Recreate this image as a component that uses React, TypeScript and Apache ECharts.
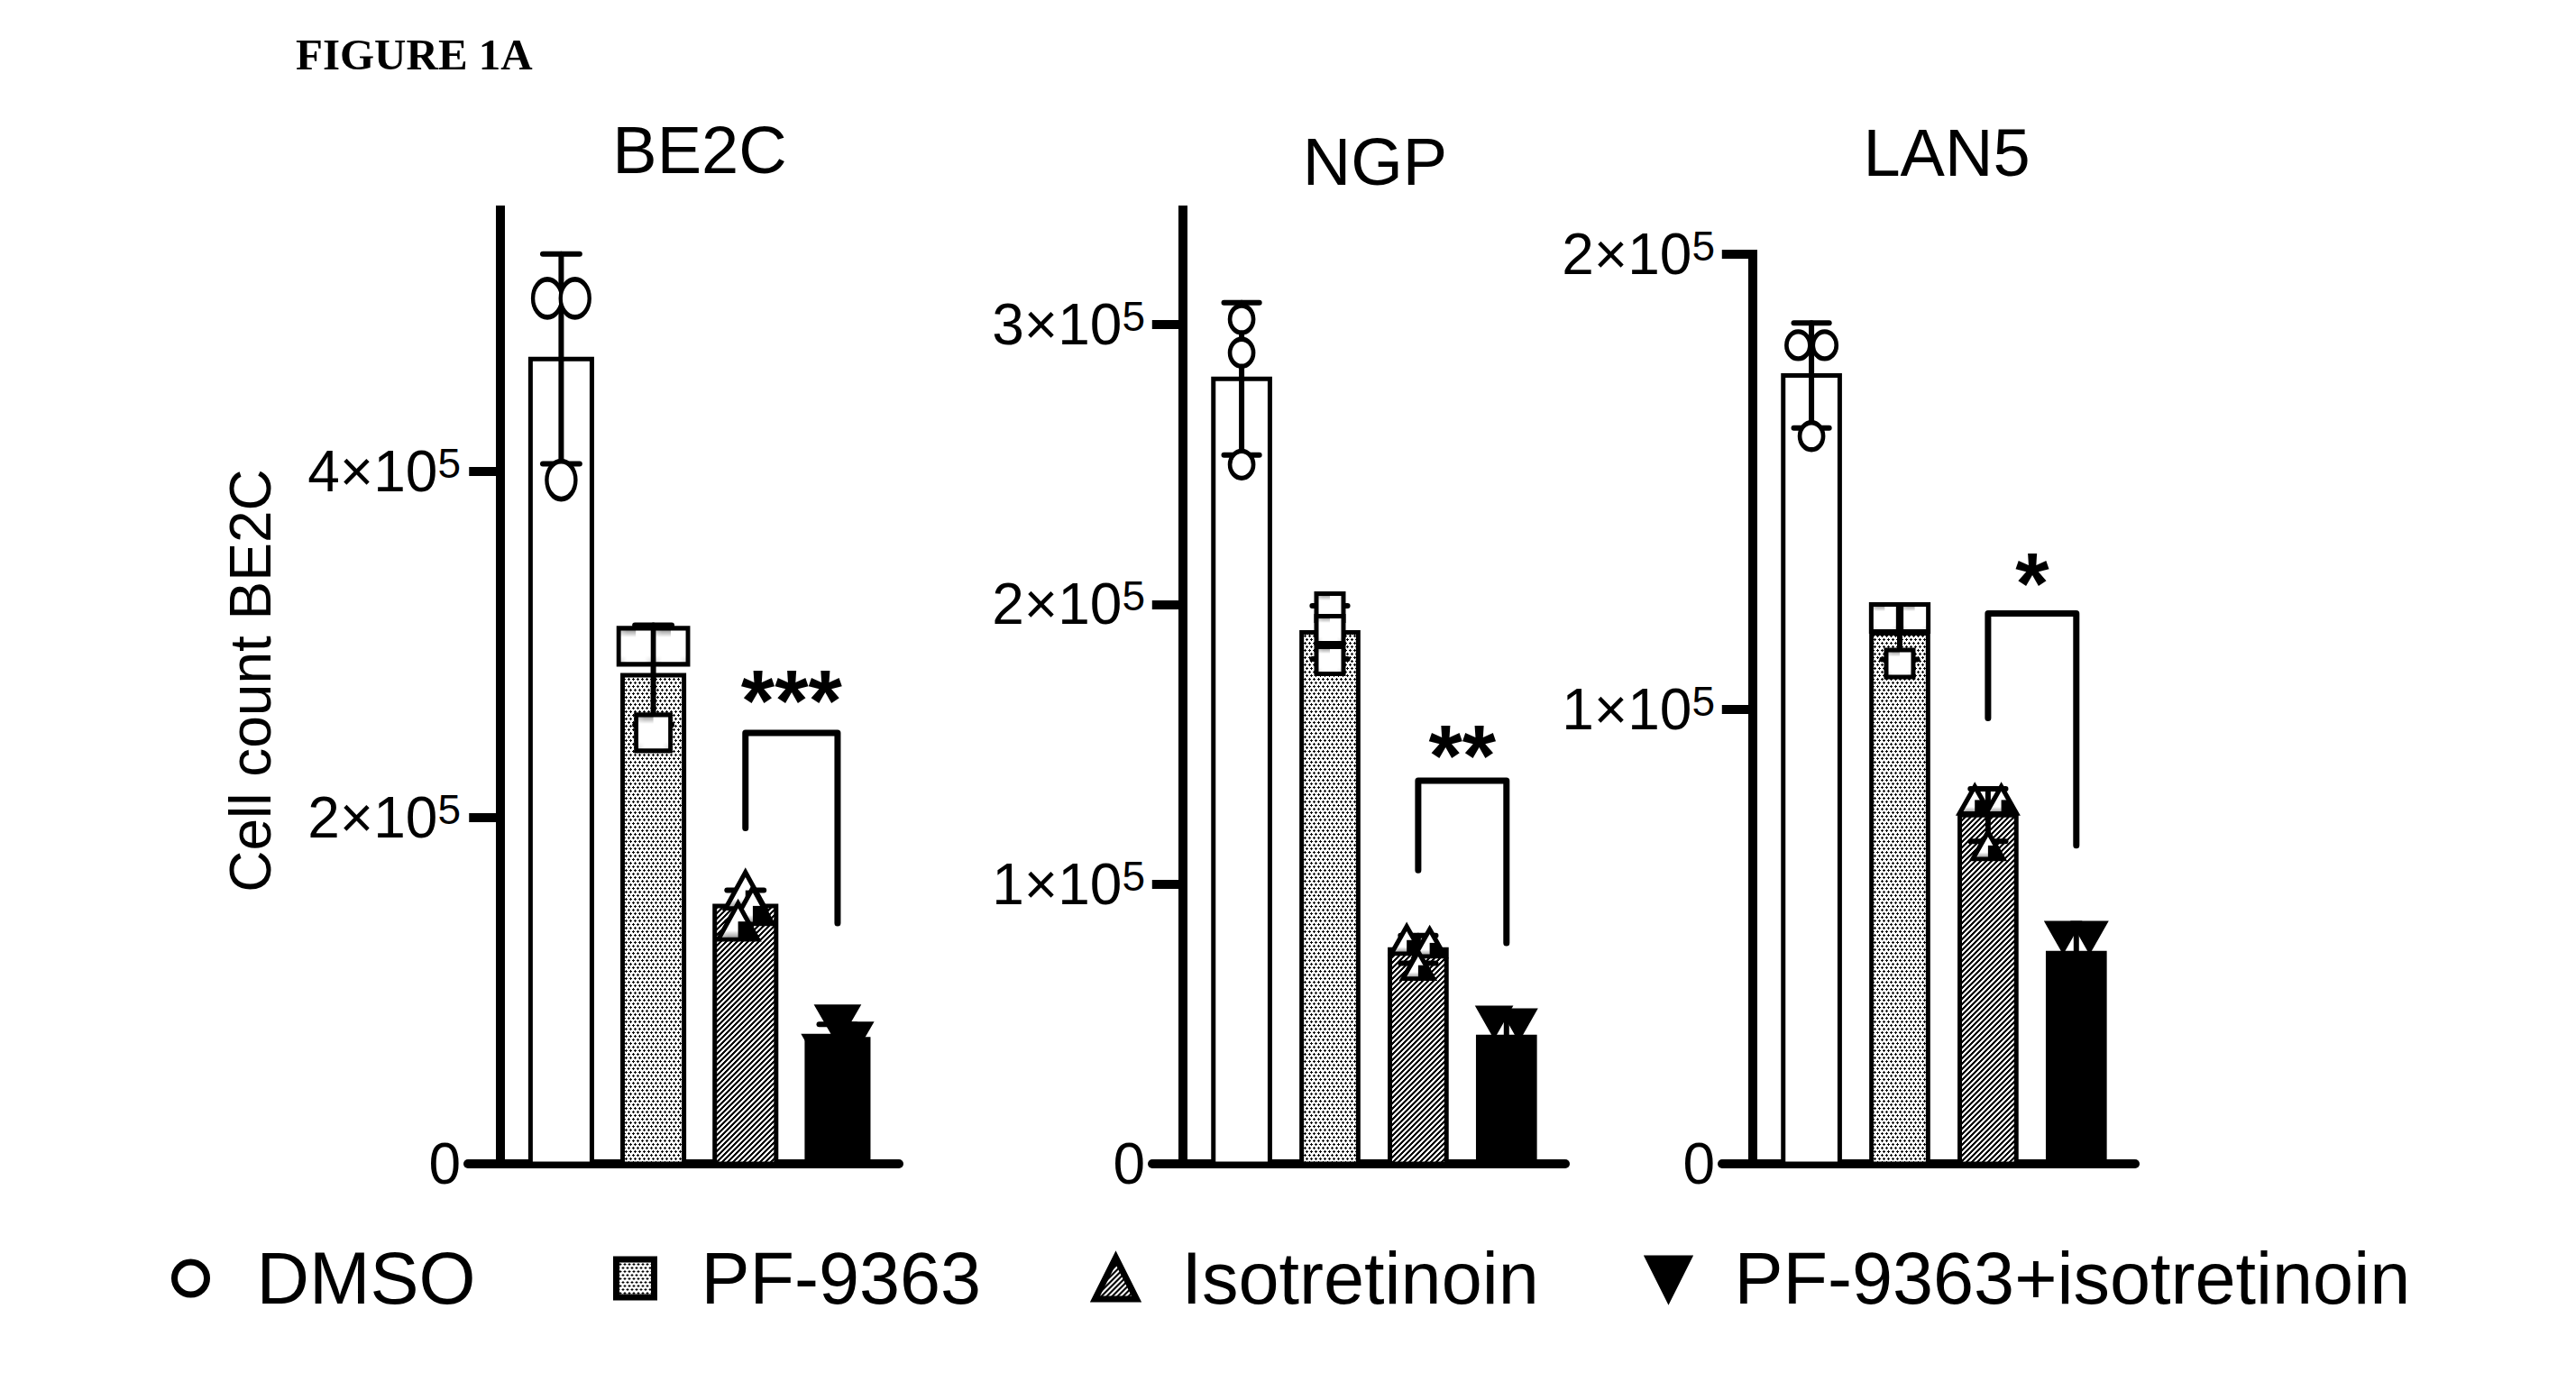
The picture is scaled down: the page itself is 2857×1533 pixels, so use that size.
import React, { useEffect, useRef } from 'react';
import * as echarts from 'echarts';

// ---------------- data ----------------
const FIGURE_LABEL = 'FIGURE 1A';
const Y_AXIS_TITLE = 'Cell count BE2C';
const GROUPS = ['DMSO', 'PF-9363', 'Isotretinoin', 'PF-9363+isotretinoin'];
const PANEL_NAMES = ['BE2C', 'NGP', 'LAN5'];

// replicate cell counts (3 per group)
const BE2C_DMSO = [500000, 500000, 395000];
const BE2C_PF = [299000, 299000, 249000];
const BE2C_ISO = [158000, 149000, 140000];
const BE2C_COMBO = [81000, 71000, 64000];

const NGP_DMSO = [302000, 290000, 250000];
const NGP_PF = [199000, 191000, 180000];
const NGP_ISO = [80000, 79000, 71000];
const NGP_COMBO = [51000, 50000, 35000];

const LAN5_DMSO = [180000, 180000, 160000];
const LAN5_PF = [120000, 120000, 110000];
const LAN5_ISO = [80000, 80000, 70000];
const LAN5_COMBO = [50000, 50000, 39000];

const BE2C_TICKS = [0, 200000, 400000];
const NGP_TICKS = [0, 100000, 200000, 300000];
const LAN5_TICKS = [0, 100000, 200000];
const Y_MAX = [551000, 341000, 200000];

// significance: [group A, group B, bracket top, left leg end, right leg end, label level]
const BE2C_SIG = [2, 3, 249000, 194000, 139000, 274000];
const NGP_SIG = [2, 3, 137000, 105000, 79000, 150000];
const LAN5_SIG = [2, 3, 121000, 98000, 70000, 130000];
const SIG_TEXT = ['***', '**', '*'];

const PANEL_DATA = [
  [BE2C_DMSO, BE2C_PF, BE2C_ISO, BE2C_COMBO],
  [NGP_DMSO, NGP_PF, NGP_ISO, NGP_COMBO],
  [LAN5_DMSO, LAN5_PF, LAN5_ISO, LAN5_COMBO],
];
const PANEL_TICKS = [BE2C_TICKS, NGP_TICKS, LAN5_TICKS];
const PANEL_SIG = [BE2C_SIG, NGP_SIG, LAN5_SIG];

// ---------------- layout / style ----------------
const W = 2857;
const H = 1533;
const FONT = '"Liberation Sans", Arial, Helvetica, sans-serif';
const GRIDS = [
  { left: 519, top: 233, width: 478, height: 1058 },
  { left: 1278, top: 233, width: 458, height: 1058 },
  { left: 1910, top: 282, width: 458, height: 1009 },
];
const X_MIN = -0.345;
const X_MAX = 4.333;
const FIRST = 0.667;
const BAR_HALF = [0.333, 0.32, 0.32];
const CAP_HALF = 0.2;
const JITTER = [
  [[-0.15, 0.15, 0], [-0.19, 0.19, 0], [0, 0.08, -0.08], [0, 0.14, -0.14]],
  [[0, 0, 0], [0, 0, 0], [-0.13, 0.13, 0], [-0.14, 0.14, 0]],
  [[-0.15, 0.15, 0], [-0.17, 0.17, 0], [-0.15, 0.15, 0], [-0.15, 0.15, 0]],
];
const SYMBOL_SIZES = [
  [[32, 42], [38, 40], [44, 40], [44, 38]],
  [[26, 30], [30, 30], [34, 30], [34, 30]],
  [[26, 30], [30, 30], [34, 30], [34, 30]],
];
const SYMBOLS = [
  'path://M0,1A1,1,0,1,1,2,1A1,1,0,1,1,0,1Z',
  'rect',
  'triangle',
  'path://M0,0L2,0L1,2Z',
];
const TITLE_POS = [[776, 166], [1525, 179], [2159, 169]];
const LEGEND_CX = [208, 701, 1234, 1848];
const LEGEND_CY = 1418;
const LEGEND_TEXT_OFFSET = 73;
const LEGEND_ICON = [[36, 42], [42, 42], [46, 46], [46, 44]];
const STAR_SIZE = 96;

function mean(a: number[]) {
  return a.reduce((s, v) => s + v, 0) / a.length;
}
function sd(a: number[]) {
  const m = mean(a);
  return Math.sqrt(a.reduce((s, v) => s + (v - m) * (v - m), 0) / (a.length - 1));
}

function dotPattern() {
  const w = 10, h = 8;
  const c = document.createElement('canvas');
  c.width = w; c.height = h;
  const ctx = c.getContext('2d')!;
  ctx.fillStyle = '#fff';
  ctx.fillRect(0, 0, w, h);
  ctx.fillStyle = '#000';
  const centers = [[2, 1], [7, 1], [4, 5], [9, 5]];
  const plus = [[0, 0], [1, 0], [-1, 0], [0, 1], [0, -1]];
  centers.forEach(([cx, cy]) =>
    plus.forEach(([dx, dy]) => ctx.fillRect((cx + dx + w) % w, (cy + dy + h) % h, 1, 1))
  );
  return { image: c.toDataURL(), repeat: 'repeat', imageWidth: w, imageHeight: h };
}
function hatchPattern() {
  const n = 6;
  const c = document.createElement('canvas');
  c.width = n; c.height = n;
  const ctx = c.getContext('2d')!;
  ctx.fillStyle = '#fff';
  ctx.fillRect(0, 0, n, n);
  ctx.fillStyle = '#000';
  for (let x = 0; x < n; x++)
    for (let y = 0; y < n; y++)
      if ((x + y) % n < 3) ctx.fillRect(x, y, 1, 1);
  return { image: c.toDataURL(), repeat: 'repeat', imageWidth: n, imageHeight: n };
}

function buildOption() {
  const FILLS: any[] = ['#fff', dotPattern(), hatchPattern(), '#000'];
  const series: any[] = [];
  const grid: any[] = [];
  const xAxis: any[] = [];
  const yAxis: any[] = [];

  PANEL_DATA.forEach((groups, p) => {
    grid.push({ ...GRIDS[p], containLabel: false });
    xAxis.push({
      type: 'value', gridIndex: p, min: X_MIN, max: X_MAX,
      axisLine: { show: true, onZero: true, lineStyle: { color: '#000', width: 10 } },
      axisTick: { show: false }, axisLabel: { show: false }, splitLine: { show: false },
    });
    const ticks = PANEL_TICKS[p];
    yAxis.push({
      type: 'value', gridIndex: p, min: 0, max: Y_MAX[p], interval: ticks[1],
      axisLine: { show: true, onZero: true, lineStyle: { color: '#000', width: 10, cap: 'square' } },
      axisTick: { show: true, length: 34, customValues: ticks, lineStyle: { color: '#000', width: 10 } },
      axisLabel: {
        show: true, margin: 8, customValues: ticks,
        formatter: (v: number) => (v === 0 ? '{n|0}' : `{n|${Math.round(v / 1e5)}×10}{s|5}`),
        rich: {
          n: { fontSize: 64, fontFamily: FONT, color: '#000', lineHeight: 64, verticalAlign: 'bottom' },
          s: { fontSize: 46, fontFamily: FONT, color: '#000', lineHeight: 30, verticalAlign: 'top' },
        },
      },
      splitLine: { show: false },
    });

    // bars (mean)
    series.push({
      type: 'custom', coordinateSystem: 'cartesian2d', xAxisIndex: p, yAxisIndex: p, z: 2, silent: true,
      data: groups.map((reps, i) => [FIRST + i, mean(reps), i]),
      renderItem: (params: any, api: any) => {
        const x = api.value(0), v = api.value(1), g = api.value(2);
        const a = api.coord([x - BAR_HALF[p], v]);
        const b = api.coord([x + BAR_HALF[p], 0]);
        return {
          type: 'rect',
          shape: { x: a[0], y: a[1], width: b[0] - a[0], height: b[1] - a[1] },
          style: { fill: FILLS[g], stroke: '#000', lineWidth: 5 },
        };
      },
    });
    // error bars (SD)
    series.push({
      type: 'custom', coordinateSystem: 'cartesian2d', xAxisIndex: p, yAxisIndex: p, z: 3, silent: true,
      data: groups.map((reps, i) => [FIRST + i, mean(reps), sd(reps)]),
      renderItem: (params: any, api: any) => {
        const x = api.value(0), m = api.value(1), s = api.value(2);
        const t = api.coord([x, m + s]), b = api.coord([x, m - s]);
        const tl = api.coord([x - CAP_HALF, m + s]), tr = api.coord([x + CAP_HALF, m + s]);
        const bl = api.coord([x - CAP_HALF, m - s]), br = api.coord([x + CAP_HALF, m - s]);
        const style = { stroke: '#000', lineWidth: 6, lineCap: 'round' };
        return {
          type: 'group',
          children: [
            { type: 'line', shape: { x1: t[0], y1: t[1], x2: b[0], y2: b[1] }, style },
            { type: 'line', shape: { x1: tl[0], y1: tl[1], x2: tr[0], y2: tr[1] }, style },
            { type: 'line', shape: { x1: bl[0], y1: bl[1], x2: br[0], y2: br[1] }, style },
          ],
        };
      },
    });
    // replicate points
    groups.forEach((reps, i) => {
      series.push({
        type: 'scatter', name: GROUPS[i], xAxisIndex: p, yAxisIndex: p, z: 4, silent: true,
        symbol: SYMBOLS[i], symbolSize: SYMBOL_SIZES[p][i],
        itemStyle: { color: FILLS[i], borderColor: '#000', borderWidth: 5, opacity: 1 },
        emphasis: { disabled: true },
        data: reps.map((v, k) => [FIRST + i + JITTER[p][i][k], v]),
      });
    });
    // significance bracket
    series.push({
      type: 'custom', coordinateSystem: 'cartesian2d', xAxisIndex: p, yAxisIndex: p, z: 5, silent: true,
      data: [PANEL_SIG[p]],
      renderItem: (params: any, api: any) => {
        const x1 = FIRST + api.value(0), x2 = FIRST + api.value(1);
        const top = api.value(2), lb = api.value(3), rb = api.value(4), ty = api.value(5);
        const pts = [api.coord([x1, lb]), api.coord([x1, top]), api.coord([x2, top]), api.coord([x2, rb])];
        const tc = api.coord([(x1 + x2) / 2, ty]);
        return {
          type: 'group',
          children: [
            {
              type: 'polyline', shape: { points: pts },
              style: { stroke: '#000', lineWidth: 7, fill: 'none', lineJoin: 'round', lineCap: 'round' },
            },
            {
              type: 'text', x: tc[0], y: tc[1] + 0.12 * STAR_SIZE,
              style: {
                text: SIG_TEXT[p], fill: '#000', fontSize: STAR_SIZE, fontWeight: 'bold', fontFamily: FONT,
                align: 'center', verticalAlign: 'middle', textAlign: 'center', textVerticalAlign: 'middle',
              },
            },
          ],
        };
      },
    });
  });

  const legend = GROUPS.map((g, i) => {
    const [iw, ih] = LEGEND_ICON[i];
    return {
      show: true, data: [g], orient: 'horizontal', padding: 0, selectedMode: false,
      left: LEGEND_CX[i] - iw / 2, top: LEGEND_CY - 41,
      itemWidth: iw, itemHeight: ih,
      itemStyle: { borderColor: '#000', borderWidth: 7 },
      textStyle: {
        fontFamily: FONT, fontSize: 81, color: '#000', lineHeight: 82,
        padding: [0, 0, 0, LEGEND_TEXT_OFFSET - iw / 2 - 5],
      },
    };
  });

  const textStyle = (text: string, font: string) => ({
    text, font, fill: '#000',
    align: 'center', verticalAlign: 'middle', textAlign: 'center', textVerticalAlign: 'middle',
  });
  const graphic: any[] = [
    {
      type: 'text', x: 328, y: 60,
      style: {
        text: FIGURE_LABEL, font: 'bold 49px "Liberation Serif", "Times New Roman", serif', fill: '#000',
        align: 'left', verticalAlign: 'middle', textAlign: 'left', textVerticalAlign: 'middle',
      },
    },
    {
      type: 'text', x: 278, y: 755, rotation: Math.PI / 2,
      style: textStyle(Y_AXIS_TITLE, `64px ${FONT}`),
    },
    ...PANEL_NAMES.map((name, p) => ({
      type: 'text', x: TITLE_POS[p][0], y: TITLE_POS[p][1],
      style: textStyle(name, `74px ${FONT}`),
    })),
  ];

  return {
    animation: false,
    backgroundColor: '#fff',
    grid, xAxis, yAxis, series, legend, graphic,
  };
}

export default function App() {
  const ref = useRef<HTMLDivElement>(null);
  useEffect(() => {
    const chart = echarts.init(ref.current!, null, { renderer: 'svg', width: W, height: H });
    chart.setOption(buildOption() as any);
    return () => chart.dispose();
  }, []);
  return (
    <div
      ref={ref}
      style={{ position: 'fixed', left: 0, top: 0, width: W, height: H, background: '#fff' }}
    />
  );
}
